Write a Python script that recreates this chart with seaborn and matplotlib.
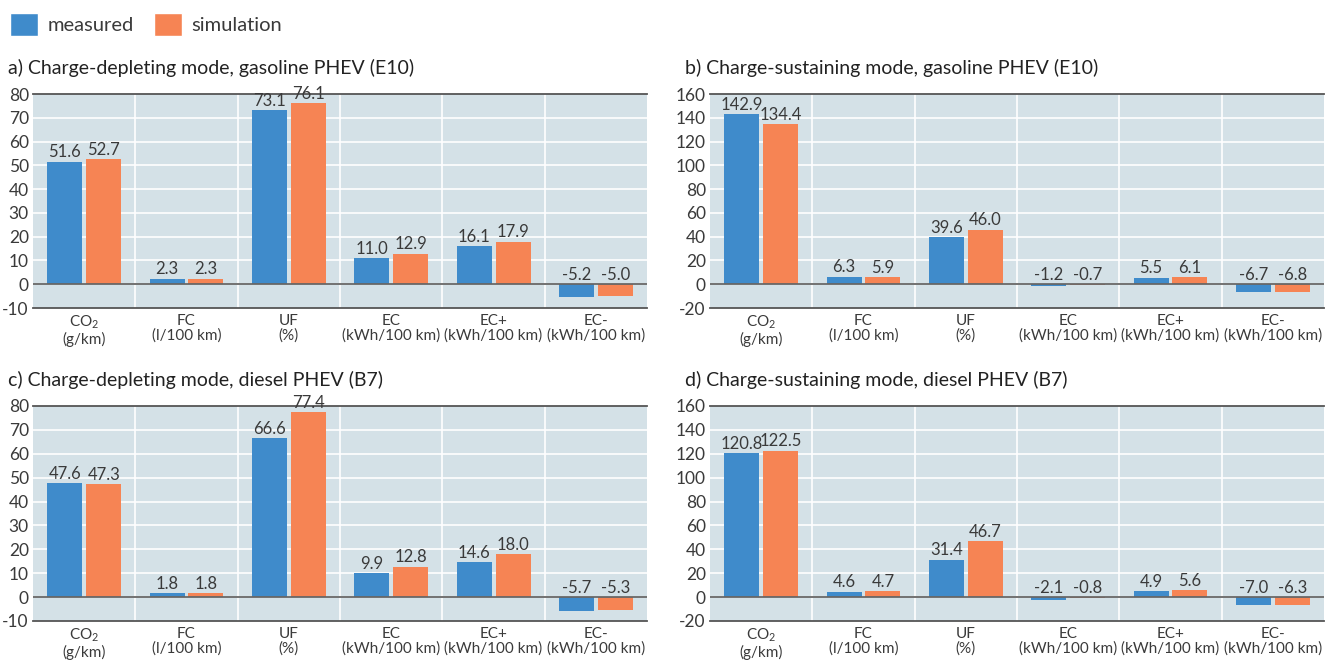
import numpy as np
import pandas as pd
import matplotlib
matplotlib.use("Agg")
import matplotlib.pyplot as plt
from matplotlib.patches import Patch
import seaborn as sns

sns.set_style("white")
plt.rcParams["font.family"] = ["Lato", "DejaVu Sans"]
plt.rcParams["mathtext.default"] = "regular"
plt.rcParams["axes.unicode_minus"] = False

# data
categories = ["CO2", "FC", "UF", "EC", "EC+", "EC-"]
tick_labels = [r"CO$_2$" + "\n(g/km)", "FC\n(l/100 km)", "UF\n(%)",
               "EC\n(kWh/100 km)", "EC+\n(kWh/100 km)", "EC-\n(kWh/100 km)"]

a_measured = [51.6, 2.3, 73.1, 11.0, 16.1, -5.2]
a_simulation = [52.7, 2.3, 76.1, 12.9, 17.9, -5.0]
b_measured = [142.9, 6.3, 39.6, -1.2, 5.5, -6.7]
b_simulation = [134.4, 5.9, 46.0, -0.7, 6.1, -6.8]
c_measured = [47.6, 1.8, 66.6, 9.9, 14.6, -5.7]
c_simulation = [47.3, 1.8, 77.4, 12.8, 18.0, -5.3]
d_measured = [120.8, 4.6, 31.4, -2.1, 4.9, -7.0]
d_simulation = [122.5, 4.7, 46.7, -0.8, 5.6, -6.3]

titles = ["a) Charge-depleting mode, gasoline PHEV (E10)",
          "b) Charge-sustaining mode, gasoline PHEV (E10)",
          "c) Charge-depleting mode, diesel PHEV (B7)",
          "d) Charge-sustaining mode, diesel PHEV (B7)"]

blue = "#3f8bcb"
orange = "#f68454"
bg = "#d4e1e7"
txt = "#3a3a3a"

fig = plt.figure(figsize=(13.32, 6.6), dpi=100)

panels = [
    (a_measured, a_simulation, [0.0248, 0.5333, 0.461, 0.3242], (-10, 80, 10)),
    (b_measured, b_simulation, [0.533, 0.5333, 0.461, 0.3242], (-20, 160, 20)),
    (c_measured, c_simulation, [0.0248, 0.0591, 0.461, 0.3258], (-10, 80, 10)),
    (d_measured, d_simulation, [0.533, 0.0591, 0.461, 0.3258], (-20, 160, 20)),
]

for i, (meas, sim, rect, (lo, hi, step)) in enumerate(panels):
    ax = fig.add_axes(rect)
    df = pd.DataFrame({
        "cat": categories * 2,
        "value": meas + sim,
        "series": ["measured"] * 6 + ["simulation"] * 6,
    })
    sns.barplot(data=df, x="cat", y="value", hue="series",
                palette=[blue, orange], saturation=1, width=0.76, gap=0.1,
                linewidth=0, legend=False, ax=ax, zorder=3)
    ax.set_facecolor(bg)
    ax.set_xlim(-0.5, 5.5)
    ax.set_ylim(lo, hi)
    ax.set_yticks(np.arange(lo, hi + 1, step))
    for y in np.arange(lo + step, hi, step):
        ax.axhline(y, color="white", lw=1.2, zorder=1)
    for x in np.arange(0.5, 5.5, 1):
        ax.axvline(x, color="white", lw=1.2, zorder=1)
    ax.axhline(0, color="#666666", lw=1.3, zorder=4)
    for s in ["left", "right"]:
        ax.spines[s].set_visible(False)
    for s in ["top", "bottom"]:
        ax.spines[s].set_color("#555555")
        ax.spines[s].set_linewidth(1.3)
    ax.set_xticks(range(6))
    ax.set_xticklabels(tick_labels, fontsize=11, color=txt, linespacing=1.1)
    ax.tick_params(axis="y", labelsize=12.5, colors=txt, length=0, pad=3)
    ax.tick_params(axis="x", length=0, pad=4)
    ax.set_xlabel("")
    ax.set_ylabel("")

    pad = (hi - lo) * 0.006
    for bars, vals in zip(ax.containers, [meas, sim]):
        for bar, v in zip(bars, vals):
            xc = bar.get_x() + bar.get_width() / 2
            ax.text(xc, max(v, 0) + pad, f"{v:.1f}", ha="center", va="bottom",
                    fontsize=12, color=txt, zorder=5, clip_on=False)

    fig.text(rect[0] - 0.019, rect[1] + rect[3] + 0.04, titles[i],
             fontsize=14, color="#222222", va="center", ha="left")

handles = [Patch(facecolor=blue, label="measured"),
           Patch(facecolor=orange, label="simulation")]
fig.legend(handles=handles, loc="upper left", bbox_to_anchor=(0.006, 0.984),
           ncol=2, frameon=False, fontsize=14.5, handlelength=1.4,
           handleheight=1.4, handletextpad=0.45, columnspacing=1.0,
           borderaxespad=0, borderpad=0.1, labelcolor=txt)

fig.savefig("out.png", dpi=100)
